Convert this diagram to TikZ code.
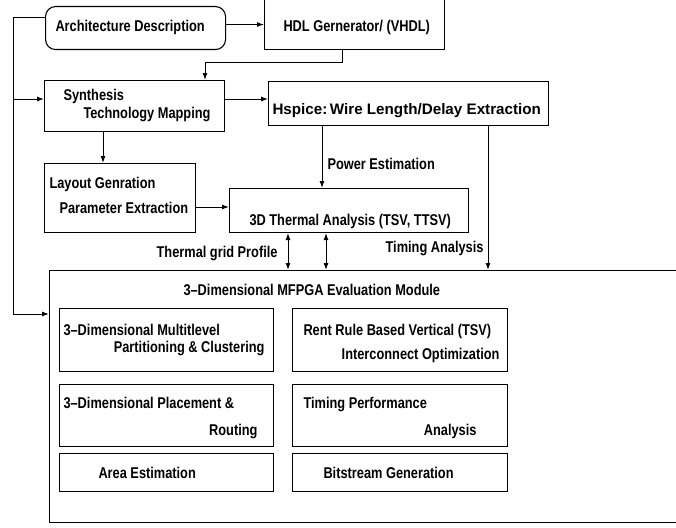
\documentclass[tikz,border=0pt]{standalone}
\usepackage{fontspec}
\setmainfont{Liberation Sans}[FakeStretch=0.82]
\newfontfamily\widesans{Liberation Sans}
\usetikzlibrary{arrows.meta}
\begin{document}
\begin{tikzpicture}[x=1pt,y=-1pt,line width=1pt,
  box/.style={draw,line width=1.1pt,rectangle,inner sep=0pt,anchor=north west},
  txt/.style={anchor=base west,inner sep=0pt,font=\fontsize{15.6}{18}\selectfont\bfseries},
  arr/.style={-{Latex[length=7pt,width=5pt]}},
  darr/.style={{Latex[length=7pt,width=5pt]}-{Latex[length=7pt,width=5pt]}}]
\clip (0,0) rectangle (676,527);
% boxes
\node[box,rounded corners=10pt,minimum width=180pt,minimum height=43pt] (arch) at (45,6) {};
\node[box,minimum width=180pt,minimum height=51pt] (hdl) at (264,-2) {};
\node[box,minimum width=180pt,minimum height=51pt] (synth) at (44,80) {};
\node[box,minimum width=280pt,minimum height=44pt] (hspice) at (268,81) {};
\node[box,minimum width=151pt,minimum height=69pt] (layout) at (44,163) {};
\node[box,minimum width=239pt,minimum height=44pt] (thermal) at (229,188) {};
\node[box,minimum width=700pt,minimum height=252pt] (big) at (49,270) {};
\node[box,minimum width=214pt,minimum height=63pt] (l1) at (59,308) {};
\node[box,minimum width=215pt,minimum height=63pt] (r1) at (292,308) {};
\node[box,minimum width=214pt,minimum height=62pt] (l2) at (59,384) {};
\node[box,minimum width=215pt,minimum height=62pt] (r2) at (292,384) {};
\node[box,minimum width=214pt,minimum height=38pt] (l3) at (59,453) {};
\node[box,minimum width=215pt,minimum height=38pt] (r3) at (292,453) {};
% texts
\node[txt] (tarch) at (55,32) {Architecture Description};
\node[txt] (thdl) at (283,32) {HDL Gernerator/ (VHDL)};
\node[txt] (tsyn1) at (63,100) {Synthesis};
\node[txt] (tsyn2) at (83,118) {Technology Mapping};
\node[txt,font=\widesans\fontsize{15.2}{18}\selectfont\bfseries] (thsp) at (272,114) {Hspice:\,Wire Length/Delay Extraction};
\node[txt] (tpow) at (327,169) {Power Estimation};
\node[txt] (tlay1) at (49,188) {Layout Genration};
\node[txt] (tlay2) at (59,213) {Parameter Extraction};
\node[txt] (tthe) at (249,225) {3D Thermal Analysis (TSV, TTSV)};
\node[txt,anchor=base east] (ttim) at (484,252) {Timing Analysis};
\node[txt,anchor=base east] (tgrid) at (278,257) {Thermal grid Profile};
\node[txt] (ttitle) at (183,295) {3--Dimensional MFPGA Evaluation Module};
\node[txt] (tl1a) at (63,335) {3--Dimensional Multitlevel};
\node[txt,anchor=base east] (tl1b) at (265,352) {Partitioning \& Clustering};
\node[txt] (tr1a) at (303,335) {Rent Rule Based Vertical (TSV)};
\node[txt,anchor=base east] (tr1b) at (500,359) {Interconnect Optimization};
\node[txt] (tl2a) at (63,408) {3--Dimensional Placement \&};
\node[txt,anchor=base east] (tl2b) at (258,435) {Routing};
\node[txt] (tr2a) at (303,408) {Timing Performance};
\node[txt,anchor=base east] (tr2b) at (477,435) {Analysis};
\node[txt] (tl3) at (98,478) {Area Estimation};
\node[txt] (tr3) at (323,478) {Bitstream Generation};
% connectors
\draw[arr] ([yshift=3.5pt]arch.east) -- ([yshift=3.5pt]arch.east -| hdl.west);
\draw[arr] (342,0 |- hdl.south) -- (342,62) -- (205,62) -- (205,0 |- synth.north);
\draw[arr] (synth.east |- 0,99) -- (hspice.west |- 0,99);
\draw[arr] (103,0 |- synth.south) -- (103,0 |- layout.north);
\draw[arr] (layout.east |- 0,207) -- (thermal.west |- 0,207);
\draw[arr] (322,0 |- hspice.south) -- (322,0 |- thermal.north);
\draw[arr] (488,0 |- hspice.south) -- (488,0 |- big.north);
\draw[darr] (288,0 |- thermal.south) -- (288,0 |- big.north);
\draw[darr] (326,0 |- thermal.south) -- (326,0 |- big.north);
\coordinate (fb) at (13,18);
\draw[arr] (arch.west |- fb) -- (fb) -- (13,314) -- (big.west |- 0,314);
\draw[arr] (13,99) -- (synth.west |- 0,99);
\end{tikzpicture}
\end{document}
